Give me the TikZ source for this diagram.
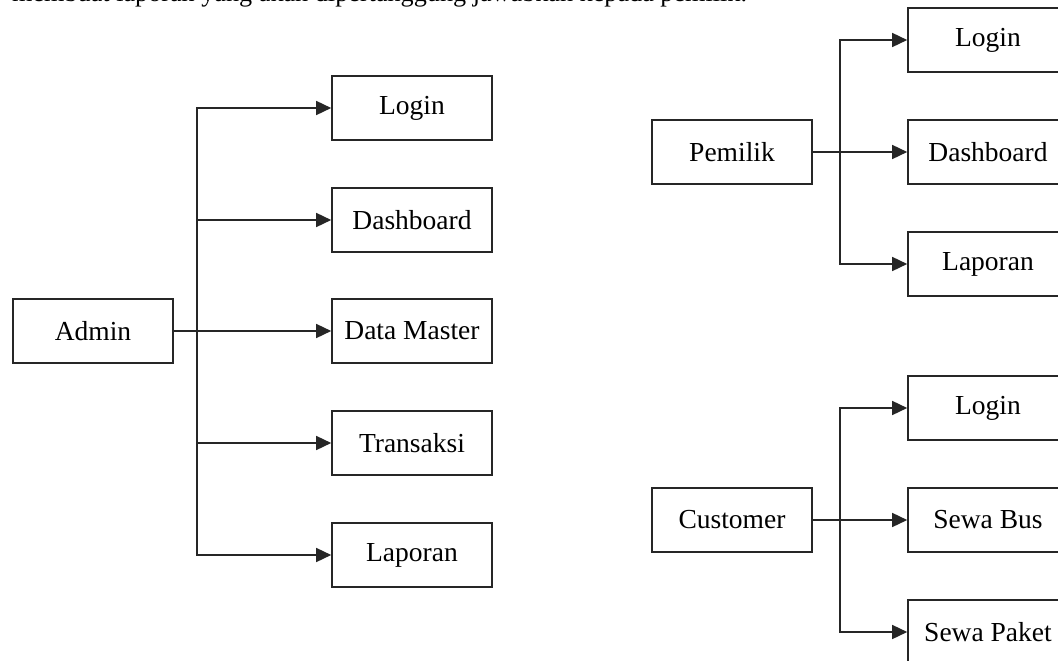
\documentclass[tikz,border=0pt]{standalone}
\usepackage{fontspec}
\setmainfont{Liberation Serif}
\usetikzlibrary{arrows.meta}
\begin{document}
\begin{tikzpicture}[x=1pt,y=-1pt,
  menubox/.style={draw=black!85, line width=1.6pt, minimum width=160pt, minimum height=64pt,
    inner sep=0pt, font=\fontsize{27.5}{32}\selectfont},
  link/.style={draw=black!85, line width=1.5pt},
  branch/.style={link, -{Triangle[length=15pt,width=14pt]}}]
\useasboundingbox (0,0) rectangle (1058,661);
\clip (0,0) rectangle (1058,661);

% running text line of the page above the figure
\node[anchor=base west, inner sep=0pt, font=\fontsize{26.2}{31}\selectfont] (para) at (12,2)
  {membuat laporan yang akan dipertanggung jawabkan kepada pemilik.};

% Admin menu structure
\node[menubox] (admin) at (93,331) {Admin};
\node[menubox] (aLogin) at (412,108) {Login};
\node[menubox] (aDash) at (412,220) {Dashboard};
\node[menubox] (aMaster) at (412,331) {Data Master};
\node[menubox] (aTrans) at (412,443) {Transaksi};
\node[menubox] (aLap) at (412,555) {Laporan};
\coordinate (ta) at (197,331);
\draw[link] (admin.east) -- (ta);
\foreach \c in {aLogin,aDash,aMaster,aTrans,aLap}
  \draw[branch] (ta) |- (\c.west);

% Pemilik menu structure
\node[menubox] (owner) at (732,152) {Pemilik};
\node[menubox] (pLogin) at (988,40) {Login};
\node[menubox] (pDash) at (988,152) {Dashboard};
\node[menubox] (pLap) at (988,264) {Laporan};
\coordinate (tp) at (840,152);
\draw[link] (owner.east) -- (tp);
\foreach \c in {pLogin,pDash,pLap}
  \draw[branch] (tp) |- (\c.west);

% Customer menu structure
\node[menubox] (cust) at (732,520) {Customer};
\node[menubox] (cLogin) at (988,408) {Login};
\node[menubox] (cBus) at (988,520) {Sewa Bus};
\node[menubox] (cPaket) at (988,632) {Sewa Paket};
\coordinate (tc) at (840,520);
\draw[link] (cust.east) -- (tc);
\foreach \c in {cLogin,cBus,cPaket}
  \draw[branch] (tc) |- (\c.west);
\end{tikzpicture}
\end{document}
